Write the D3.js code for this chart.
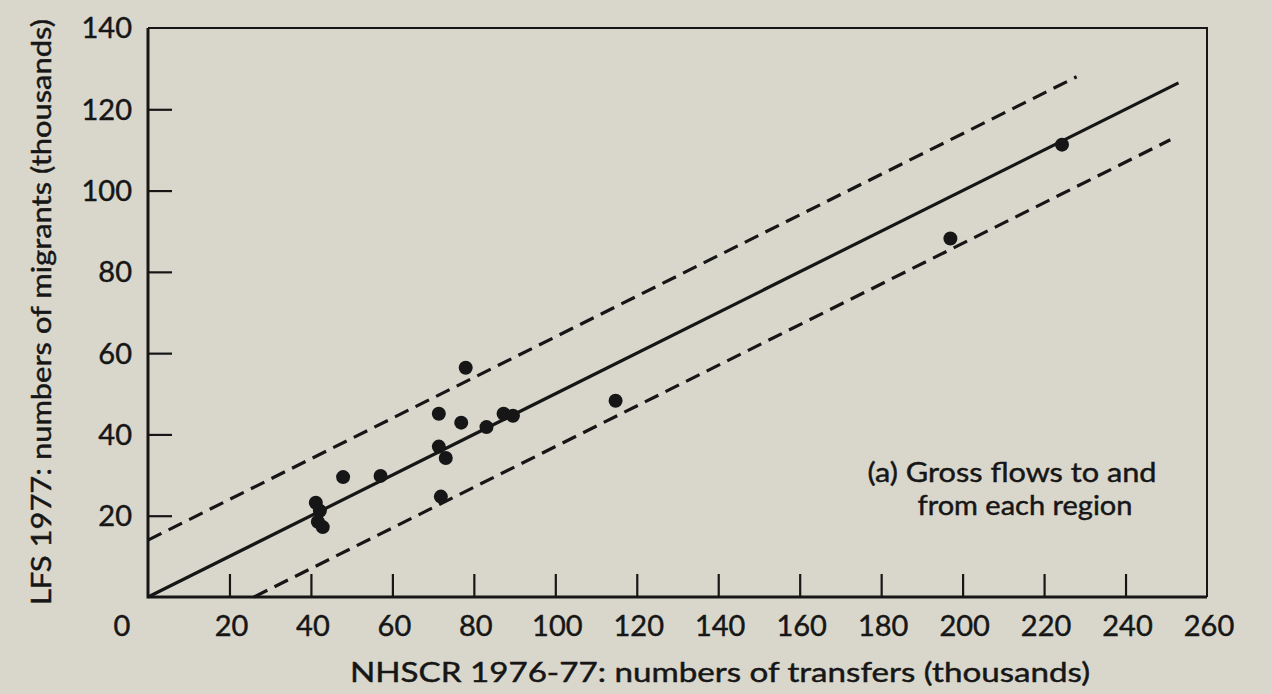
<!DOCTYPE html>
<html>
<head>
<meta charset="utf-8">
<script src="https://cdn.jsdelivr.net/npm/d3@7"></script>
<style>
body { margin: 0; background: #d9d7cc; }
text { font-family: "Lato", "Liberation Sans", sans-serif; fill: #161616; stroke: #161616; stroke-width: 0.45px; }
</style>
</head>
<body>
<div id="canvas"></div>
<script>
// ----------------------------------------------------------
// DATA -----------------------------------------------------
// ----------------------------------------------------------

// NHSCR 1976-77 transfers (x) vs LFS 1977 migrants (y), thousands
var points_x = [78, 71.4, 76.9, 83.1, 87.3, 89.6, 71.4, 73.1, 47.9, 57.1, 71.9,
  41.2, 42.2, 41.7, 42.9, 114.8, 197, 224.4];
var points_y = [56.4, 45.1, 42.9, 41.8, 45.1, 44.6, 37.0, 34.2, 29.5, 29.8, 24.7,
  23.2, 21.2, 18.5, 17.2, 48.3, 88.2, 111.3];

// reference lines (data units): y = x / 2 and a band of about +-13.5
var line_solid = [[0, 0], [253, 126.5]];
var line_upper = [[0, 14], [228, 128]];
var line_lower = [[26, 0], [251, 112.5]];

var ticks_x = [20, 40, 60, 80, 100, 120, 140, 160, 180, 200, 220, 240];
var labels_x = [20, 40, 60, 80, 100, 120, 140, 160, 180, 200, 220, 240, 260];
var ticks_y = [20, 40, 60, 80, 100, 120];
var labels_y = [20, 40, 60, 80, 100, 120, 140];

var title_x = "NHSCR 1976-77:  numbers of  transfers  (thousands)";
var title_y = "LFS 1977:  numbers of migrants (thousands)";
var note_lines = ["(a) Gross flows to and", "from each region"];


// ----------------------------------------------------------
// STRUCTURE ------------------------------------------------
// ----------------------------------------------------------

var W = 1272, H = 694;
var ink = "#161616";

var svg = d3.select("#canvas").append("svg")
  .attr("width", W)
  .attr("height", H);

var x = d3.scaleLinear().domain([0, 260]).range([148, 1207]);
var y = d3.scaleLinear().domain([0, 140]).range([597, 28]);

var frame_group = svg.append("g").attr("class", "frame_group");
var gfx_group = svg.append("g").attr("class", "gfx_group");
var text_group = svg.append("g").attr("class", "text_group");


// ----------------------------------------------------------
// FRAME ----------------------------------------------------
// ----------------------------------------------------------

// top and right border (thin)
frame_group.append("path")
  .attr("d", `M${x(0)},${y(140)} H${x(260)} V${y(0)}`)
  .attr("fill", "none")
  .attr("stroke", ink)
  .attr("stroke-width", 2);

// left and bottom axis (heavier)
frame_group.append("path")
  .attr("d", `M${x(0)},${y(140)} V${y(0)} H${x(260)}`)
  .attr("fill", "none")
  .attr("stroke", ink)
  .attr("stroke-width", 3);

// x axis: ticks pointing inwards
var axis_x = d3.axisTop(x).tickValues(ticks_x).tickSize(23).tickFormat("");
frame_group.append("g")
  .attr("transform", `translate(0, ${y(0)})`)
  .call(axis_x)
  .call(g => g.select(".domain").remove())
  .call(g => g.selectAll("line").attr("stroke", ink).attr("stroke-width", 2.2));

// y axis: ticks pointing inwards
var axis_y = d3.axisRight(y).tickValues(ticks_y).tickSize(24).tickFormat("");
frame_group.append("g")
  .attr("transform", `translate(${x(0)}, 0)`)
  .call(axis_y)
  .call(g => g.select(".domain").remove())
  .call(g => g.selectAll("line").attr("stroke", ink).attr("stroke-width", 2.2));

// tick labels
text_group.selectAll(".label_x")
  .data(labels_x)
  .enter()
  .append("text")
  .attr("class", "label_x")
  .attr("x", d => x(d) + 2)
  .attr("y", 636)
  .attr("text-anchor", "middle")
  .style("font-size", "29px")
  .text(d => d);

text_group.append("text")
  .attr("x", 122)
  .attr("y", 636)
  .attr("text-anchor", "middle")
  .style("font-size", "29px")
  .text("0");

text_group.selectAll(".label_y")
  .data(labels_y)
  .enter()
  .append("text")
  .attr("class", "label_y")
  .attr("x", 132)
  .attr("y", d => y(d))
  .attr("dy", "0.36em")
  .attr("text-anchor", "end")
  .style("font-size", "29px")
  .text(d => d);


// ----------------------------------------------------------
// GFX ------------------------------------------------------
// ----------------------------------------------------------

var line = d3.line().x(d => x(d[0])).y(d => y(d[1]));

gfx_group.append("path")
  .attr("d", line(line_solid))
  .attr("fill", "none")
  .attr("stroke", ink)
  .attr("stroke-width", 3.2);

gfx_group.selectAll(".dash_line")
  .data([line_upper, line_lower])
  .enter()
  .append("path")
  .attr("class", "dash_line")
  .attr("d", d => line(d))
  .attr("fill", "none")
  .attr("stroke", ink)
  .attr("stroke-width", 3.2)
  .attr("stroke-dasharray", "15,8");

gfx_group.selectAll(".dot")
  .data(points_x)
  .enter()
  .append("circle")
  .attr("class", "dot")
  .attr("cx", d => x(d))
  .attr("cy", (d, i) => y(points_y[i]))
  .attr("r", 7)
  .attr("fill", ink);


// ----------------------------------------------------------
// TEXT -----------------------------------------------------
// ----------------------------------------------------------

text_group.append("text")
  .attr("x", 720)
  .attr("y", 682)
  .attr("text-anchor", "middle")
  .attr("textLength", 740)
  .attr("lengthAdjust", "spacingAndGlyphs")
  .style("font-size", "27px")
  .text(title_x);

text_group.append("text")
  .attr("transform", "translate(51, 312) rotate(-90)")
  .attr("text-anchor", "middle")
  .attr("textLength", 586)
  .attr("lengthAdjust", "spacingAndGlyphs")
  .style("font-size", "27px")
  .text(title_y);

text_group.append("text")
  .attr("x", 1012)
  .attr("y", 482)
  .attr("text-anchor", "middle")
  .attr("textLength", 289)
  .attr("lengthAdjust", "spacingAndGlyphs")
  .style("font-size", "27px")
  .text(note_lines[0]);

text_group.append("text")
  .attr("x", 1025)
  .attr("y", 515)
  .attr("text-anchor", "middle")
  .attr("textLength", 215)
  .attr("lengthAdjust", "spacingAndGlyphs")
  .style("font-size", "27px")
  .text(note_lines[1]);
</script>
</body>
</html>
